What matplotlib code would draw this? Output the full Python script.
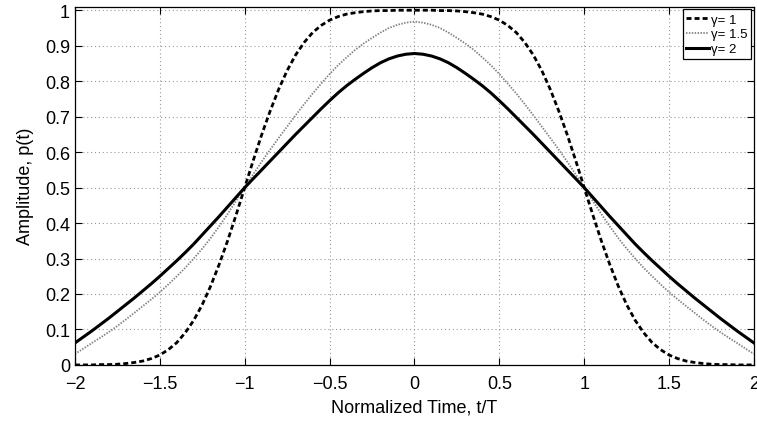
import matplotlib
matplotlib.use("Agg")
import matplotlib.pyplot as plt

plt.rcParams['font.family'] = ['Liberation Sans', 'DejaVu Sans']

# normalized time t/T, sampled every 0.05
t = [round(-2 + 0.05 * i, 2) for i in range(81)]

# amplitude
p_g1 = [0.000, 0.000, 0.000, 0.001, 0.001, 0.002, 0.004, 0.007, 0.011, 0.018, 0.028,
        0.043, 0.063, 0.091, 0.126, 0.170, 0.223, 0.284, 0.351, 0.424, 0.500,
        0.576, 0.649, 0.716, 0.777, 0.830, 0.874, 0.909, 0.937, 0.957, 0.972,
        0.982, 0.989, 0.993, 0.996, 0.998, 0.999, 0.999, 1.000, 1.000, 1.000,
        1.000, 1.000, 0.999, 0.999, 0.998, 0.996, 0.993, 0.989, 0.982, 0.972,
        0.957, 0.937, 0.909, 0.874, 0.830, 0.777, 0.716, 0.649, 0.576, 0.500,
        0.424, 0.351, 0.284, 0.223, 0.170, 0.126, 0.091, 0.063, 0.043, 0.028,
        0.018, 0.011, 0.007, 0.004, 0.002, 0.001, 0.001, 0.000, 0.000, 0.000]
p_g15 = [0.031, 0.046, 0.062, 0.077, 0.093, 0.110, 0.128, 0.147, 0.166, 0.185, 0.205,
         0.227, 0.250, 0.274, 0.300, 0.328, 0.358, 0.391, 0.426, 0.463, 0.500,
         0.537, 0.573, 0.607, 0.640, 0.672, 0.704, 0.735, 0.765, 0.793, 0.820,
         0.845, 0.867, 0.888, 0.906, 0.922, 0.937, 0.950, 0.959, 0.965, 0.968,
         0.965, 0.959, 0.950, 0.937, 0.922, 0.906, 0.888, 0.867, 0.845, 0.820,
         0.793, 0.765, 0.735, 0.704, 0.672, 0.640, 0.607, 0.573, 0.537, 0.500,
         0.463, 0.426, 0.391, 0.358, 0.328, 0.300, 0.274, 0.250, 0.227, 0.205,
         0.185, 0.166, 0.147, 0.128, 0.110, 0.093, 0.077, 0.062, 0.046, 0.031]
p_g2 = [0.062, 0.079, 0.096, 0.114, 0.132, 0.151, 0.170, 0.189, 0.209, 0.229, 0.250,
        0.272, 0.294, 0.317, 0.341, 0.367, 0.393, 0.419, 0.446, 0.473, 0.500,
        0.525, 0.550, 0.575, 0.600, 0.625, 0.650, 0.674, 0.698, 0.722, 0.745,
        0.767, 0.787, 0.805, 0.822, 0.838, 0.852, 0.863, 0.871, 0.876, 0.878,
        0.876, 0.871, 0.863, 0.852, 0.838, 0.822, 0.805, 0.787, 0.767, 0.745,
        0.722, 0.698, 0.674, 0.650, 0.625, 0.600, 0.575, 0.550, 0.525, 0.500,
        0.473, 0.446, 0.419, 0.393, 0.367, 0.341, 0.317, 0.294, 0.272, 0.250,
        0.229, 0.209, 0.189, 0.170, 0.151, 0.132, 0.114, 0.096, 0.079, 0.062]

labels = ["γ= 1", "γ= 1.5", "γ= 2"]
xticks = [-2, -1.5, -1, -0.5, 0, 0.5, 1, 1.5, 2]
xticklabels = ["\u22122", "\u22121.5", "\u22121", "\u22120.5", "0", "0.5", "1", "1.5", "2"]
yticks = [0, 0.1, 0.2, 0.3, 0.4, 0.5, 0.6, 0.7, 0.8, 0.9, 1]
yticklabels = ["0", "0.1", "0.2", "0.3", "0.4", "0.5", "0.6", "0.7", "0.8", "0.9", "1"]

fig = plt.figure(figsize=(7.57, 4.27), dpi=100)
ax = fig.add_axes([0.099, 0.143, 0.897, 0.839])

ax.plot(t, p_g1, color="black", lw=2.0, linestyle=(0, (1.8, 1.1)), label=labels[0])
ax.plot(t, p_g15, color="0.5", lw=1.3, linestyle=(0, (0.8, 0.8)), label=labels[1])
ax.plot(t, p_g2, color="black", lw=2.2, label=labels[2])

ax.set_xlim(-2, 2)
ax.set_ylim(0, 1.01)
ax.set_xticks(xticks)
ax.set_xticklabels(xticklabels)
ax.set_yticks(yticks)
ax.set_yticklabels(yticklabels)
ax.tick_params(direction="in", top=True, right=True, labelsize=13, length=5, width=0.8)
ax.tick_params(axis="x", pad=7)
ax.grid(True, color="0.6", linestyle=(0, (1, 2.5)), lw=0.8)
for s in ax.spines.values():
    s.set_linewidth(0.9)

ax.set_xlabel("Normalized Time, t/T", fontsize=13, labelpad=5)
ax.set_ylabel("Amplitude, p(t)", fontsize=13, labelpad=8)

leg = ax.legend(loc="upper right", fontsize=9.5, fancybox=False, edgecolor="black",
                framealpha=1, borderaxespad=0.2, handlelength=1.7, handletextpad=0.15,
                labelspacing=0.2, borderpad=0.3)
leg.get_frame().set_linewidth(0.9)

fig.savefig("out.png", dpi=100)
